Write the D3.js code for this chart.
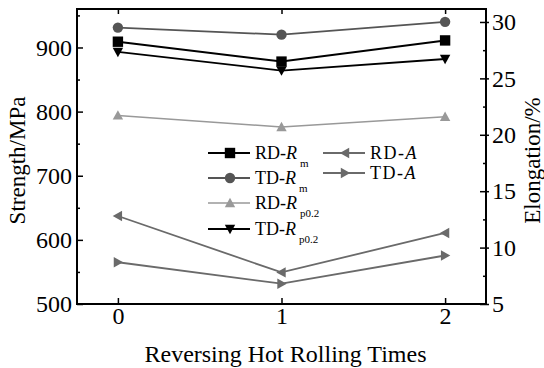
<!DOCTYPE html>
<html>
<head>
<meta charset="utf-8">
<script src="https://cdn.jsdelivr.net/npm/d3@7"></script>
<style>
  body { margin: 0; background: #fff; }
  svg text { font-family: "Liberation Serif", "Times New Roman", Times, serif; }
</style>
</head>
<body>
<div class="viz"></div>
<script>
// data
const times = [0, 1, 2];
const rdRm = [909, 878, 911];
const tdRm = [931, 920, 940];
const rdRp = [794, 776, 792];
const tdRp = [893, 864, 882];
const rdA = [12.8, 7.8, 11.3];
const tdA = [8.7, 6.8, 9.3];
const strengthTicks = [500, 600, 700, 800, 900];
const elongTicks = [5, 10, 15, 20, 25, 30];

const serif = "'Liberation Serif', 'Times New Roman', Times, serif";

const dimensions = {
    width: 544,
    height: 368,
    margin: { top: 9, right: 58, bottom: 64, left: 77 },
};
dimensions.boundedWidth = dimensions.width - dimensions.margin.left - dimensions.margin.right;
dimensions.boundedHeight = dimensions.height - dimensions.margin.top - dimensions.margin.bottom;

const wrapper = d3.select(".viz")
    .append("svg")
    .attr("width", dimensions.width)
    .attr("height", dimensions.height)
    .attr("font-family", serif);

const bounds = wrapper.append("g")
    .attr("transform", `translate(${dimensions.margin.left},${dimensions.margin.top})`);

const xScale = d3.scaleLinear().domain([-0.25, 2.25]).range([0, dimensions.boundedWidth]);
const yLeft = d3.scaleLinear().domain([500, 960]).range([dimensions.boundedHeight, 0]);
const yRight = d3.scaleLinear().domain([5, 31.15]).range([dimensions.boundedHeight, 0]);

// series: values, axis, color, marker, stroke width
const series = [
    { name: "RD-Rm", values: rdRm, scale: yLeft, color: "#000", marker: "square", sw: 2 },
    { name: "TD-Rm", values: tdRm, scale: yLeft, color: "#555", marker: "circle", sw: 1.8 },
    { name: "RD-Rp", values: rdRp, scale: yLeft, color: "#999", marker: "up", sw: 1.6 },
    { name: "TD-Rp", values: tdRp, scale: yLeft, color: "#000", marker: "down", sw: 1.8 },
    { name: "RD-A", values: rdA, scale: yRight, color: "#6a6a6a", marker: "left", sw: 1.8 },
    { name: "TD-A", values: tdA, scale: yRight, color: "#6a6a6a", marker: "right", sw: 1.8 },
];

function markerPath(type) {
    const s = 5.2;
    switch (type) {
        case "square": return `M${-s},${-s}H${s}V${s}H${-s}Z`;
        case "up": return `M0,${-s}L${s},${s * 0.8}L${-s},${s * 0.8}Z`;
        case "down": return `M0,${s}L${s},${-s * 0.8}L${-s},${-s * 0.8}Z`;
        case "left": return `M${-s},0L${s * 0.8},${-s}L${s * 0.8},${s}Z`;
        case "right": return `M${s},0L${-s * 0.8},${-s}L${-s * 0.8},${s}Z`;
    }
}

function drawMarker(g, type, x, y, color) {
    if (type === "circle") {
        g.append("circle").attr("cx", x).attr("cy", y).attr("r", 5.2).attr("fill", color);
    } else {
        g.append("path").attr("d", markerPath(type))
            .attr("transform", `translate(${x},${y})`).attr("fill", color);
    }
}

series.forEach(s => {
    const line = d3.line()
        .x((d, i) => xScale(times[i]))
        .y(d => s.scale(d));
    bounds.append("path")
        .attr("d", line(s.values))
        .attr("fill", "none")
        .attr("stroke", s.color)
        .attr("stroke-width", s.sw);
    s.values.forEach((v, i) => drawMarker(bounds, s.marker, xScale(times[i]), s.scale(v), s.color));
});

// axes
function styleAxis(g) {
    g.attr("font-family", serif).attr("font-size", 24);
    g.select(".domain").remove();
    g.selectAll("line").attr("stroke", "#000").attr("stroke-width", 1.5);
    g.selectAll("text").attr("fill", "#000");
}

// left
bounds.append("g")
    .call(d3.axisLeft(yLeft).tickValues(d3.range(550, 960, 100)).tickSize(-3).tickFormat(""))
    .call(styleAxis);
bounds.append("g")
    .call(d3.axisLeft(yLeft).tickValues(strengthTicks).tickSize(-6).tickPadding(5))
    .call(styleAxis);

// right
bounds.append("g")
    .attr("transform", `translate(${dimensions.boundedWidth},0)`)
    .call(d3.axisRight(yRight).tickValues(d3.range(7.5, 31, 5)).tickSize(-3).tickFormat(""))
    .call(styleAxis);
bounds.append("g")
    .attr("transform", `translate(${dimensions.boundedWidth},0)`)
    .call(d3.axisRight(yRight).tickValues(elongTicks).tickSize(-6).tickPadding(6))
    .call(styleAxis)
    .selectAll(".tick")
    .append("line").attr("x1", 0).attr("x2", 3).attr("stroke", "#000").attr("stroke-width", 1.5);

// bottom
bounds.append("g")
    .attr("transform", `translate(0,${dimensions.boundedHeight})`)
    .call(d3.axisBottom(xScale).tickValues(times).tickSize(-6).tickPadding(3).tickFormat(d3.format("d")))
    .call(styleAxis);

// top
bounds.append("g")
    .call(d3.axisTop(xScale).tickValues(times).tickSize(-5).tickFormat(""))
    .call(styleAxis);

// frame
bounds.append("rect")
    .attr("width", dimensions.boundedWidth)
    .attr("height", dimensions.boundedHeight)
    .attr("fill", "none")
    .attr("stroke", "#000")
    .attr("stroke-width", 2);

// axis titles
wrapper.append("text")
    .attr("transform", `translate(${25},${dimensions.margin.top + dimensions.boundedHeight / 2 + 4}) rotate(-90)`)
    .attr("text-anchor", "middle")
    .attr("font-size", 23)
    .text("Strength/MPa");

wrapper.append("text")
    .attr("transform", `translate(${540},${dimensions.margin.top + dimensions.boundedHeight / 2 + 4}) rotate(-90)`)
    .attr("text-anchor", "middle")
    .attr("font-size", 23)
    .text("Elongation/%");

wrapper.append("text")
    .attr("x", dimensions.margin.left + dimensions.boundedWidth / 2 + 4)
    .attr("y", 362)
    .attr("text-anchor", "middle")
    .attr("font-size", 24)
    .text("Reversing Hot Rolling Times");

// legend
const legendItems = [
    { s: series[0], pre: "RD-", it: "R", sub: "m", x: 208, y: 153 },
    { s: series[1], pre: "TD-", it: "R", sub: "m", x: 208, y: 178 },
    { s: series[2], pre: "RD-", it: "R", sub: "p0.2", x: 208, y: 203 },
    { s: series[3], pre: "TD-", it: "R", sub: "p0.2", x: 208, y: 229 },
    { s: series[4], pre: "RD-", it: "A", sub: "", x: 323, y: 153 },
    { s: series[5], pre: "TD-", it: "A", sub: "", x: 323, y: 173 },
];
const legend = wrapper.append("g");
legendItems.forEach(d => {
    legend.append("line")
        .attr("x1", d.x).attr("x2", d.x + 42)
        .attr("y1", d.y).attr("y2", d.y)
        .attr("stroke", d.s.color).attr("stroke-width", d.s.sw);
    drawMarker(legend, d.s.marker, d.x + 22, d.y, d.s.color);
    const t = legend.append("text")
        .attr("x", d.x + 47).attr("y", d.y + 6)
        .attr("font-size", 18)
        .attr("letter-spacing", d.sub ? 0 : 1.5);
    t.append("tspan").text(d.pre);
    t.append("tspan").attr("font-style", "italic").text(d.it);
    if (d.sub) {
        t.append("tspan").attr("dx", 3).attr("dy", 8).attr("font-size", 11).text(d.sub);
    }
});
</script>
</body>
</html>
